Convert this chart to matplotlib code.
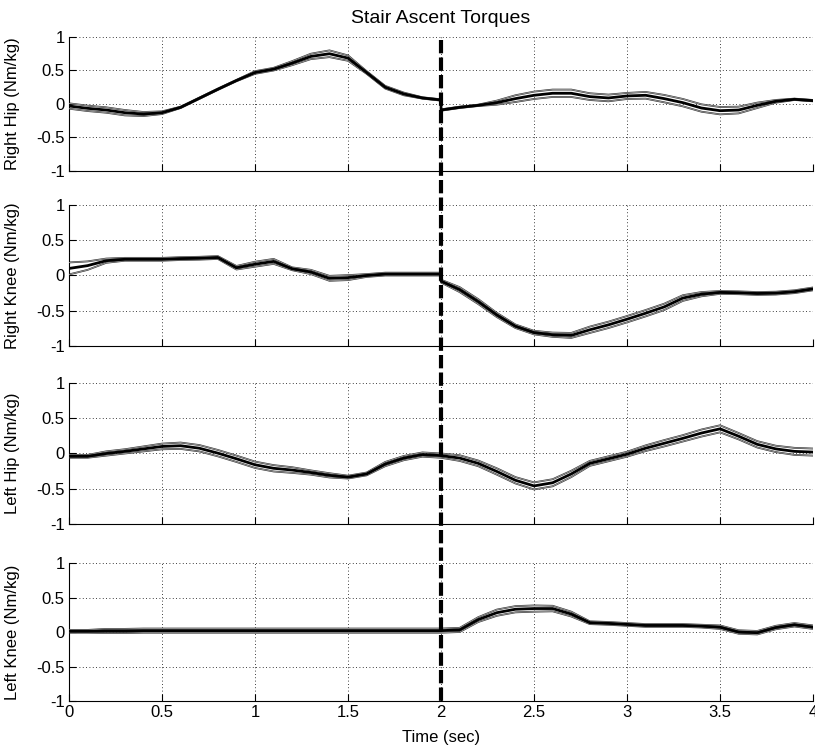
import matplotlib.pyplot as plt
from matplotlib.lines import Line2D
from matplotlib.transforms import blended_transform_factory

plt.rcParams['font.family'] = ['Liberation Sans', 'DejaVu Sans']

# sample times (2.0 appears twice: value just before / just after the step change)
time = [0.0, 0.1, 0.2, 0.3, 0.4, 0.5, 0.6, 0.7, 0.8, 0.9,
        1.0, 1.1, 1.2, 1.3, 1.4, 1.5, 1.6, 1.7, 1.8, 1.9, 2.0,
        2.0, 2.1, 2.2, 2.3, 2.4, 2.5, 2.6, 2.7, 2.8, 2.9,
        3.0, 3.1, 3.2, 3.3, 3.4, 3.5, 3.6, 3.7, 3.8, 3.9, 4.0]

# mean torque per joint (Nm/kg)
right_hip = [-0.03, -0.065, -0.09, -0.13, -0.15, -0.13, -0.05, 0.085, 0.22, 0.35,
             0.47, 0.52, 0.61, 0.71, 0.75, 0.685, 0.47, 0.25, 0.15, 0.09, 0.06,
             -0.09, -0.05, -0.02, 0.02, 0.08, 0.13, 0.16, 0.16, 0.11, 0.09,
             0.12, 0.13, 0.08, 0.02, -0.06, -0.10, -0.09, -0.02, 0.04, 0.07, 0.05]
right_knee = [0.10, 0.14, 0.21, 0.23, 0.23, 0.23, 0.24, 0.245, 0.255, 0.11,
              0.16, 0.20, 0.095, 0.05, -0.04, -0.03, 0.0, 0.02, 0.02, 0.02, 0.02,
              -0.08, -0.20, -0.37, -0.56, -0.72, -0.81, -0.84, -0.85, -0.77, -0.70,
              -0.62, -0.535, -0.445, -0.32, -0.265, -0.24, -0.245, -0.255, -0.25, -0.23, -0.19]
left_hip = [-0.04, -0.04, 0.0, 0.03, 0.065, 0.10, 0.11, 0.075, 0.005, -0.075,
            -0.16, -0.21, -0.235, -0.27, -0.31, -0.335, -0.29, -0.15, -0.065, -0.015, -0.03,
            -0.03, -0.065, -0.14, -0.255, -0.38, -0.46, -0.415, -0.29, -0.14, -0.075,
            -0.01, 0.075, 0.145, 0.215, 0.29, 0.35, 0.245, 0.13, 0.065, 0.03, 0.02]
left_knee = [0.01, 0.01, 0.015, 0.015, 0.02, 0.02, 0.02, 0.02, 0.02, 0.02,
             0.02, 0.02, 0.02, 0.02, 0.02, 0.02, 0.02, 0.02, 0.02, 0.02, 0.02,
             0.02, 0.03, 0.18, 0.28, 0.33, 0.34, 0.34, 0.26, 0.135, 0.125,
             0.11, 0.095, 0.095, 0.095, 0.085, 0.07, 0.0, -0.01, 0.065, 0.105, 0.07]

# half-width of the band drawn around each mean
right_hip_sd = [0.04, 0.04, 0.04, 0.04, 0.03, 0.02, 0.01, 0.01, 0.01, 0.01,
                0.02, 0.02, 0.03, 0.04, 0.05, 0.04, 0.02, 0.02, 0.02, 0.01, 0.01,
                0.01, 0.01, 0.01, 0.03, 0.05, 0.055, 0.055, 0.055, 0.05, 0.05,
                0.045, 0.05, 0.055, 0.055, 0.055, 0.055, 0.05, 0.04, 0.02, 0.01, 0.01]
right_knee_sd = [0.085, 0.06, 0.03, 0.02, 0.02, 0.02, 0.02, 0.02, 0.02, 0.025,
                 0.035, 0.035, 0.02, 0.03, 0.035, 0.035, 0.02, 0.02, 0.02, 0.02, 0.02,
                 0.02, 0.035, 0.035, 0.03, 0.025, 0.025, 0.03, 0.035, 0.045, 0.045,
                 0.045, 0.045, 0.045, 0.04, 0.03, 0.02, 0.02, 0.02, 0.02, 0.02, 0.02]
left_hip_sd = [0.02, 0.02, 0.03, 0.03, 0.035, 0.04, 0.045, 0.045, 0.045, 0.045,
               0.045, 0.045, 0.04, 0.03, 0.03, 0.02, 0.02, 0.03, 0.03, 0.03, 0.03,
               0.03, 0.04, 0.04, 0.045, 0.045, 0.05, 0.05, 0.045, 0.035, 0.035,
               0.035, 0.04, 0.045, 0.045, 0.05, 0.05, 0.045, 0.045, 0.045, 0.05, 0.05]
left_knee_sd = [0.02, 0.02, 0.03, 0.03, 0.03, 0.03, 0.03, 0.03, 0.03, 0.03,
                0.03, 0.03, 0.03, 0.03, 0.03, 0.03, 0.03, 0.03, 0.03, 0.03, 0.03,
                0.03, 0.03, 0.035, 0.045, 0.045, 0.045, 0.04, 0.035, 0.02, 0.02,
                0.02, 0.02, 0.02, 0.02, 0.02, 0.025, 0.025, 0.025, 0.025, 0.025, 0.025]

joints = ['Right Hip', 'Right Knee', 'Left Hip', 'Left Knee']
means = [right_hip, right_knee, left_hip, left_knee]
spreads = [right_hip_sd, right_knee_sd, left_hip_sd, left_knee_sd]

xticks = [0, 0.5, 1, 1.5, 2, 2.5, 3, 3.5, 4]
xticklabels = ['0', '0.5', '1', '1.5', '2', '2.5', '3', '3.5', '4']
yticks = [-1, -0.5, 0, 0.5, 1]
yticklabels = ['-1', '-0.5', '0', '0.5', '1']

fig = plt.figure(figsize=(8.15, 7.46), dpi=100)

# axes boxes [left, bottom, width, height] in figure fraction
boxes = [[0.0847, 0.7708, 0.9129, 0.1796],
         [0.0847, 0.5362, 0.9129, 0.1890],
         [0.0847, 0.2976, 0.9129, 0.1890],
         [0.0847, 0.0603, 0.9129, 0.1850]]

axes = []
for i, (name, m, s) in enumerate(zip(joints, means, spreads)):
    ax = fig.add_axes(boxes[i])
    upper = [a + b for a, b in zip(m, s)]
    lower = [a - b for a, b in zip(m, s)]
    for band in (upper, lower):
        ax.plot(time, band, color='0.2', lw=1.3, zorder=2)
        ax.plot(time, band, color='0.62', lw=0.6, zorder=3)
    ax.plot(time, m, color='k', lw=2.0, zorder=4)

    ax.set_xlim(0, 4)
    ax.set_ylim(-1, 1)
    ax.set_xticks(xticks)
    ax.set_yticks(yticks)
    ax.set_yticklabels(yticklabels)
    if i == 3:
        ax.set_xticklabels(xticklabels)
        ax.set_xlabel('Time (sec)', fontsize=12)
        ax.xaxis.set_label_coords(0.5, -0.21)
    else:
        ax.set_xticklabels([])
    ax.grid(True, color='k', linestyle=(0, (1, 3)), linewidth=0.6)
    ax.tick_params(direction='in', length=5, width=0.8, labelsize=12, pad=3)
    ax.spines['top'].set_visible(False)
    ax.spines['right'].set_visible(False)
    ax.set_ylabel(name + ' (Nm/kg)', fontsize=12)
    ax.yaxis.set_label_coords(-0.066, 0.5)
    axes.append(ax)

fig.text(0.541, 0.975, 'Stair Ascent Torques', ha='center', va='center', fontsize=14)

# dashed event marker at t = 2 s running through all panels
trans = blended_transform_factory(axes[3].transData, fig.transFigure)
fig.add_artist(Line2D([2, 2], [1 - 40 / 746, 0.0603], transform=trans,
                      color='k', lw=3, linestyle=(0, (3.2, 1.0)), zorder=10))

fig.savefig('out.png', dpi=100)
